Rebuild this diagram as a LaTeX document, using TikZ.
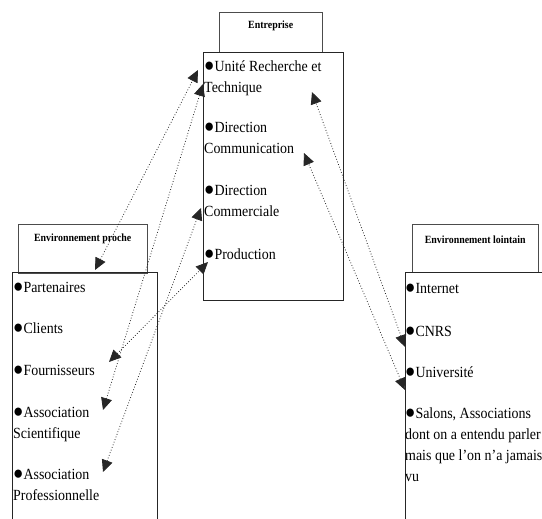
\documentclass[tikz,border=0pt]{standalone}
\usepackage{fontspec}
\setmainfont{Liberation Serif}[FakeStretch=0.9]
\usetikzlibrary{arrows.meta}

\newcommand{\puce}{{\fontsize{19}{21}\selectfont●}}

\begin{document}
\begin{tikzpicture}[x=1pt,y=-1pt]
    \tikzset{
        title/.style = {rectangle, draw=black!70, thin, anchor=north west, inner sep=0pt, font=\fontsize{11}{13}\selectfont\bfseries},
        item/.style = {anchor=base west, align=left, inner sep=1pt, font=\fontsize{15.5}{21}\selectfont},
        box/.style = {draw=black!85, thin},
        link/.style = {draw=black!85, dotted, line width=0.8pt, {Triangle[length=12pt,width=11pt]}-{Triangle[length=12pt,width=11pt]}},
    }
    \useasboundingbox (0,0) rectangle (542,519);

    \node[title](entreprise)[minimum width=103pt, text height=16pt, text depth=24pt] at (219,12) {Entreprise};
    \node[title](proche)[minimum width=129pt, text height=17pt, text depth=32pt] at (18,224) {Environnement proche};
    \node[title](lointain)[minimum width=126pt, text height=19pt, text depth=29pt] at (412,224) {Environnement lointain};

    \draw[box] (203,52) rectangle (343,300);
    \draw[box] (12,519) |- (157,272) -- (157,519);
    \draw[box] (405,519) |- (542,272);

    % multi-line items sit on the baseline of their last line
    \node[item](unite) at (203,93) {\puce Unité Recherche et\\Technique};
    \node[item](communication) at (203,154) {\puce Direction\\Communication};
    \node[item](commerciale) at (203,217) {\puce Direction\\Commerciale};
    \node[item](production) at (203,259) {\puce Production};

    \node[item](partenaires) at (12,292) {\puce Partenaires};
    \node[item](clients) at (12,334) {\puce Clients};
    \node[item](fournisseurs) at (12,375) {\puce Fournisseurs};
    \node[item](scientifique) at (12,438) {\puce Association\\Scientifique};
    \node[item](professionnelle) at (12,500) {\puce Association\\Professionnelle};

    \node[item](internet) at (404,294) {\puce Internet};
    \node[item](cnrs) at (404,336) {\puce CNRS};
    \node[item](universite) at (404,377) {\puce Université};
    \node[item](salons) at (404,481) {\puce Salons, Associations\\dont on a entendu parler\\mais que l’on n’a jamais\\vu};

    \path [link] ([shift={(83,-22)}]partenaires.base west) -- ([shift={(-5,-23)}]unite.base west);
    \path [link] ([shift={(91,-28)}]scientifique.base west) -- ([shift={(0,-9)}]unite.base west);
    \path [link] ([shift={(97,-13)}]fournisseurs.base west) -- ([shift={(5,3)}]production.base west);
    \path [link] ([shift={(91,-28)}]professionnelle.base west) -- ([shift={(-2,-9)}]commerciale.base west);
    \path [link] ([shift={(1,11)}]cnrs.base west) -- ([shift={(109,-1)}]unite.base west);
    \path [link] ([shift={(1,13)}]universite.base west) -- ([shift={(101,-1)}]communication.base west);

\end{tikzpicture}
\end{document}
